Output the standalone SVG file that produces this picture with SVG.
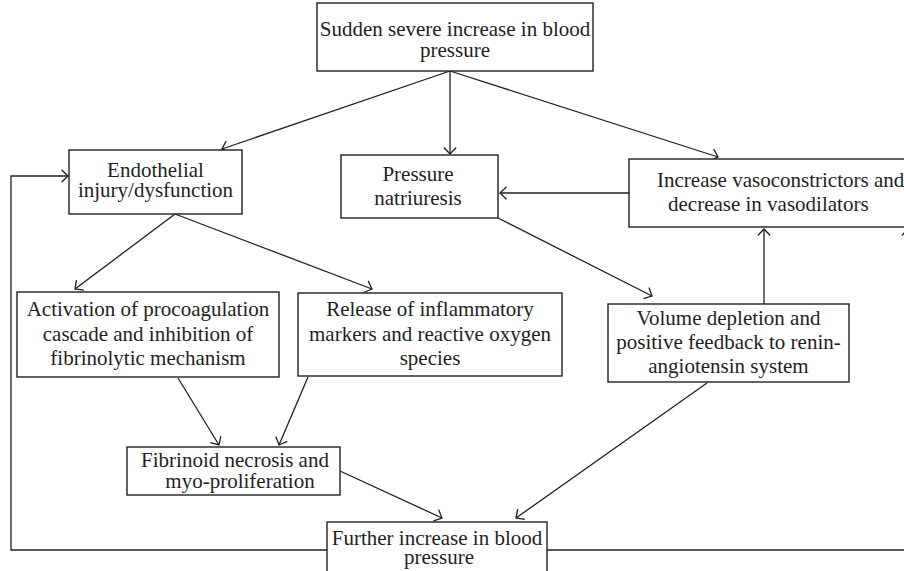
<svg xmlns="http://www.w3.org/2000/svg" width="904" height="571" viewBox="0 0 904 571">
<style>
.box{fill:#fff;stroke:#231f20;stroke-width:1.4}
.t{font-family:"Liberation Serif","Times New Roman",serif;font-size:21px;fill:#231f20;text-anchor:middle}
.ts{font-family:"Liberation Serif","Times New Roman",serif;font-size:21px;fill:#231f20}
.c{fill:none;stroke:#231f20;stroke-width:1.3}
.a{marker-end:url(#arr)}
</style>
<defs>
<marker id="arr" markerUnits="userSpaceOnUse" viewBox="0 0 8 14" refX="7" refY="7" markerWidth="8" markerHeight="14" orient="auto">
<path d="M0.5,0.8 L7,7 L0.5,13.2" fill="none" stroke="#231f20" stroke-width="1.3"/>
</marker>
</defs>
<rect width="904" height="571" fill="#fff"/>
<g id="connectors">
<line class="c a" x1="450" y1="71" x2="222" y2="149"/>
<line class="c a" x1="450" y1="71" x2="450" y2="154"/>
<line class="c a" x1="450" y1="71" x2="718" y2="157"/>
<line class="c a" x1="629" y1="193" x2="500" y2="193"/>
<line class="c a" x1="498" y1="218" x2="652" y2="296"/>
<line class="c a" x1="764" y1="304" x2="764" y2="229"/>
<line class="c a" x1="175" y1="214" x2="75" y2="289"/>
<line class="c a" x1="175" y1="214" x2="372" y2="289"/>
<line class="c a" x1="178" y1="378" x2="219" y2="445"/>
<line class="c a" x1="308" y1="377" x2="279" y2="445"/>
<line class="c a" x1="340" y1="471" x2="442" y2="518"/>
<line class="c a" x1="707" y1="383" x2="516" y2="518"/>
<polyline class="c a" points="327,550 11,550 11,176 68,176"/>
<polyline class="c a" points="547,550 908,550 908,229"/>
</g>
<g id="n-top">
<rect class="box" x="317" y="3" width="276" height="68"/>
<text class="t" x="455" y="36">Sudden severe increase in blood</text>
<text class="t" x="455" y="57">pressure</text>
</g>
<g id="n-endothelial">
<rect class="box" x="69" y="150" width="173" height="64"/>
<text class="t" x="155.5" y="177">Endothelial</text>
<text class="t" x="155.5" y="197">injury/dysfunction</text>
</g>
<g id="n-pressure">
<rect class="box" x="341" y="155" width="157" height="63"/>
<text class="t" x="418" y="181">Pressure</text>
<text class="t" x="418" y="205">natriuresis</text>
</g>
<g id="n-increase">
<rect class="box" x="629" y="159" width="300" height="68"/>
<text class="ts" x="657" y="187">Increase vasoconstrictors and</text>
<text class="ts" x="668" y="211">decrease in vasodilators</text>
</g>
<g id="n-activation">
<rect class="box" x="17" y="292" width="262" height="85"/>
<text class="t" x="148" y="316">Activation of procoagulation</text>
<text class="t" x="148" y="341">cascade and inhibition of</text>
<text class="t" x="148" y="365">fibrinolytic mechanism</text>
</g>
<g id="n-release">
<rect class="box" x="298" y="293" width="264" height="83"/>
<text class="t" x="430" y="316">Release of inflammatory</text>
<text class="t" x="430" y="341">markers and reactive oxygen</text>
<text class="t" x="430" y="365">species</text>
</g>
<g id="n-volume">
<rect class="box" x="608" y="304" width="241" height="78"/>
<text class="t" x="728.5" y="325">Volume depletion and</text>
<text class="t" x="728.5" y="349">positive feedback to renin-</text>
<text class="t" x="728.5" y="373">angiotensin system</text>
</g>
<g id="n-fibrinoid">
<rect class="box" x="127" y="447" width="213" height="48"/>
<text class="t" x="235" y="467">Fibrinoid necrosis and</text>
<text class="t" x="240" y="488">myo-proliferation</text>
</g>
<g id="n-further">
<rect class="box" x="327" y="522" width="220" height="60"/>
<text class="t" x="437" y="545">Further increase in blood</text>
<text class="t" x="439" y="564">pressure</text>
</g>
</svg>
